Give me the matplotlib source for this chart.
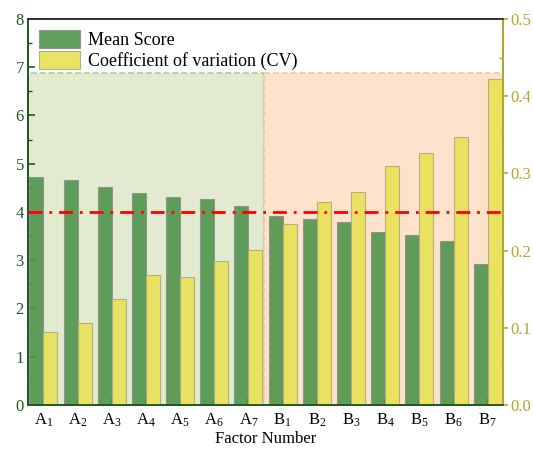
import matplotlib.pyplot as plt
import numpy as np
from matplotlib.patches import Rectangle
from matplotlib.ticker import MultipleLocator

plt.rcParams["font.family"] = "Liberation Serif"
plt.rcParams["mathtext.fontset"] = "custom"
plt.rcParams["mathtext.rm"] = "Liberation Serif"
plt.rcParams["mathtext.it"] = "Liberation Serif:italic"

#====================DATA====================

factors = ["A_1", "A_2", "A_3", "A_4", "A_5", "A_6", "A_7",
           "B_1", "B_2", "B_3", "B_4", "B_5", "B_6", "B_7"]
mean_score = [4.72, 4.66, 4.52, 4.40, 4.32, 4.26, 4.12,
              3.92, 3.86, 3.80, 3.59, 3.52, 3.40, 2.93]
cv = [0.095, 0.106, 0.137, 0.168, 0.166, 0.187, 0.201,
      0.234, 0.263, 0.276, 0.310, 0.326, 0.347, 0.422]
threshold = 4.0

#====================PLOT====================

green = "#4f944c"
yellow = "#e8e155"
dark_green = "#1f5a1f"
olive = "#b3a62c"

fig = plt.figure(figsize=(5.33, 4.5), dpi=100)
ax = fig.add_axes([0.0525, 0.1, 0.8915, 0.858])
ax2 = ax.twinx()

x = np.arange(len(factors))
w = 0.41

ax.set_xlim(-0.45, 13.45)
ax.set_ylim(0, 8)
ax2.set_ylim(0, 0.5)

# background groups
ax.add_patch(Rectangle((-0.45, 0), 6.9, 6.88, facecolor="#e2ebd0",
                       edgecolor="#a9cf9a", linestyle="--", lw=1.2, zorder=0))
ax.add_patch(Rectangle((6.45, 0), 7.0, 6.88, facecolor="#fde3cb",
                       edgecolor="#f8c69c", linestyle="--", lw=1.2, zorder=0))

b1 = ax.bar(x - w / 2, mean_score, w, color=green, alpha=0.9,
            edgecolor="#8f8f8f", lw=0.8, label="Mean Score", zorder=2)
b2 = ax2.bar(x + w / 2, cv, w, color=yellow, alpha=0.9,
             edgecolor="#b0aa80", lw=0.8, label="Coefficient of variation (CV)", zorder=2)

ax2.axhline(threshold / 16, color="red", lw=2, linestyle=(0, (5, 2.5, 1, 2.5)), zorder=3)

ax.set_xticks(x)
ax.set_xticklabels([r"$\mathrm{%s}_{%s}$" % tuple(f.split("_")) for f in factors], fontsize=12)
ax.tick_params(axis="x", direction="in", length=5, width=1.2, color="black", pad=5)
ax.set_xlabel("Factor Number", fontsize=12, labelpad=1)

ax.yaxis.set_major_locator(MultipleLocator(1))
ax.yaxis.set_minor_locator(MultipleLocator(0.5))
ax.tick_params(axis="y", which="major", direction="in", length=5, width=1.2,
               color=dark_green, labelcolor=dark_green, labelsize=12, pad=3)
ax.tick_params(axis="y", which="minor", direction="in", length=3, width=1, color=dark_green)

ax2.yaxis.set_major_locator(MultipleLocator(0.1))
ax2.yaxis.set_minor_locator(MultipleLocator(0.05))
ax2.tick_params(axis="y", which="major", direction="inout", length=7, width=1.2,
                color=olive, labelcolor=olive, labelsize=12, pad=2)
ax2.tick_params(axis="y", which="minor", direction="in", length=3, width=1, color=olive)
ax2.yaxis.set_major_formatter(plt.FuncFormatter(lambda v, p: "%.1f" % v))

for a in (ax, ax2):
    a.spines["left"].set_color(dark_green)
    a.spines["right"].set_color(olive)
    a.spines["bottom"].set_color(dark_green)
    a.spines["top"].set_color("#333333")
    for s in a.spines.values():
        s.set_linewidth(1.3)

ax2.legend([b1, b2], ["Mean Score", "Coefficient of variation (CV)"],
           loc="upper left", frameon=False, fontsize=13, handlelength=2.3,
           handleheight=1.2, borderaxespad=0.2, labelspacing=0.1, handletextpad=0.4)

plt.savefig("out.png", dpi=100)
